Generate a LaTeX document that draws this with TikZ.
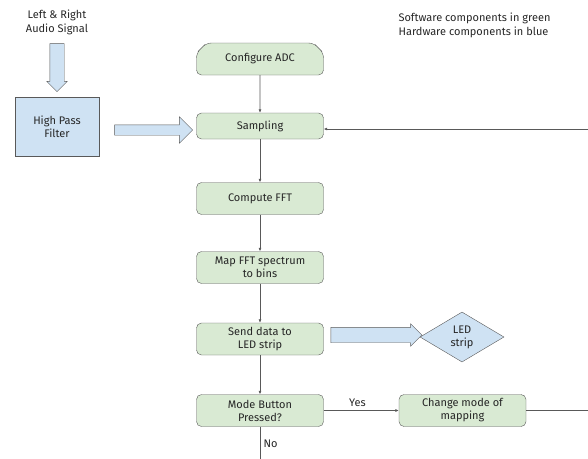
\documentclass[tikz,border=0pt]{standalone}
\usepackage{fontspec}
\setmainfont{Fira Sans}
\usetikzlibrary{shapes}
\usetikzlibrary{shapes.misc}
\usetikzlibrary{shapes.arrows}
\usetikzlibrary{arrows.meta}
\definecolor{swgreen}{HTML}{D9EAD3}
\definecolor{hwblue}{HTML}{CFE2F3}
\definecolor{edgegray}{HTML}{595959}
\definecolor{textgray}{HTML}{262626}
\tikzset{
    swbox/.style = {rectangle, rounded corners=5pt, draw=edgegray, fill=swgreen, align=center,
                    minimum width=127pt, minimum height=32pt, font=\fontsize{11}{13}\selectfont, text=textgray},
    hwbox/.style = {rectangle, draw=edgegray, fill=hwblue, align=center,
                    minimum width=84pt, minimum height=59pt, font=\fontsize{11}{13}\selectfont, text=textgray},
    hwdiamond/.style = {diamond, draw=edgegray, fill=hwblue, align=center, inner sep=0pt,
                    minimum width=84pt, minimum height=50pt, font=\fontsize{11}{13}\selectfont, text=textgray},
    blockarrow/.style = {single arrow, draw=edgegray, fill=hwblue, inner xsep=0pt},
    flow/.style = {-{Latex[length=3.5pt,width=3pt]}, edgegray, semithick},
    note/.style = {align=left, font=\fontsize{11}{14}\selectfont, text=textgray},
}
\begin{document}
\begin{tikzpicture}[x=1pt,y=-1pt]
  \useasboundingbox (0,0) rectangle (588,458);
  % software side
  \node[swbox, chamfered rectangle, chamfered rectangle corners={north west,north east},
        chamfered rectangle xsep=5pt, chamfered rectangle ysep=5pt] (adc) at (260,59) {Configure ADC};
  \node[swbox, minimum height=26pt] (sampling) at (260,126) {Sampling};
  \node[swbox] (fft) at (260,198.5) {Compute FFT};
  \node[swbox] (map) at (260,267.5) {Map FFT spectrum\\to bins};
  \node[swbox] (send) at (260,339) {Send data to\\LED strip};
  \node[swbox] (mode) at (260,410.5) {Mode Button\\Pressed?};
  \node[swbox] (change) at (462.5,410.5) {Change mode of\\mapping};
  % hardware side
  \node[note, align=center] (audio) at (57,22) {Left \& Right\\Audio Signal};
  \node[hwbox] (hpf) at (57,126.5) {High Pass\\Filter};
  \node[hwdiamond] (led) at (462,337) {LED\\strip};
  \node[blockarrow, rotate=-90, minimum height=48pt, inner ysep=7pt, minimum width=20pt,
        single arrow head extend=3pt] (inarrow) at (57,64) {};
  \node[blockarrow, minimum height=78pt, inner ysep=5pt, minimum width=26pt,
        single arrow head extend=8pt] (filterarrow) at (151,130) {};
  \node[blockarrow, minimum height=91pt, inner ysep=7.5pt, minimum width=22pt,
        single arrow head extend=3.5pt] (ledarrow) at (372.5,335) {};
  % legend
  \node[note, anchor=north west] (legend) at (395,9) {Software components in green\\Hardware components in blue};
  % connectors
  \coordinate (loopbot) at (595,410.5);
  \coordinate (looptop) at (595,129);
  \coordinate (exit) at (260,470);
  \draw[flow] (adc) -- (sampling);
  \draw[flow] (sampling) -- (fft);
  \draw[flow] (fft) -- (map);
  \draw[flow] (map) -- (send);
  \draw[flow] (send) -- (mode);
  \draw[flow] (mode) -- node[above, font=\fontsize{11}{13}\selectfont, text=textgray, pos=0.45] (yes) {Yes} (change);
  \draw[edgegray, semithick] (mode) -- node[right, pos=0.4, font=\fontsize{11}{13}\selectfont, text=textgray] (no) {No} (exit);
  \draw[flow] (change.east) -- (loopbot) -- (looptop) -- (sampling.east |- looptop);
\end{tikzpicture}
\end{document}
